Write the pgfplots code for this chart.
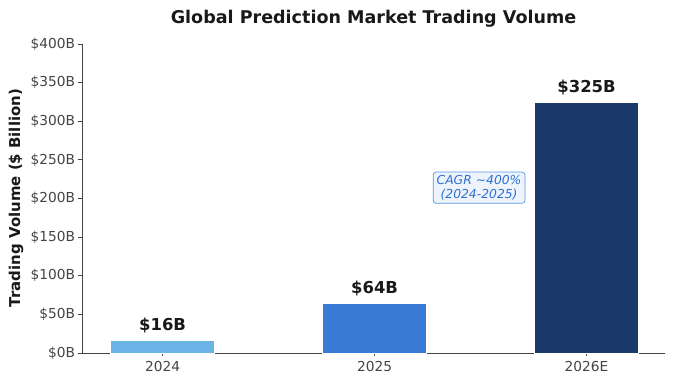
\documentclass[border=0pt]{standalone}
\usepackage{pgfplots}
\pgfplotsset{compat=1.18}
\usepackage{fontspec}
\setmainfont{DejaVu Sans}
\definecolor{c24}{HTML}{6BB4E8}
\definecolor{c25}{HTML}{3A7BD5}
\definecolor{c26}{HTML}{1B3A6B}
\definecolor{tickgray}{HTML}{444444}
\definecolor{cagr}{HTML}{2F6FD6}
\definecolor{cagrfill}{HTML}{EEF4FC}
\definecolor{cagredge}{HTML}{5A94E2}
\begin{document}
\begin{tikzpicture}
\path[use as bounding box] (-82bp,-34bp) rectangle (593bp,353bp);
\begin{axis}[
  at={(0,0)}, anchor=south west,
  scale only axis, width=583bp, height=309bp,
  xmin=-0.38, xmax=2.37, ymin=0, ymax=400,
  axis lines*=left,
  axis line style={color=tickgray, line width=0.8pt},
  xtick={0,1,2}, xticklabels={2024,2025,2026E},
  ytick={0,50,100,150,200,250,300,350,400},
  yticklabels={\$0B,\$50B,\$100B,\$150B,\$200B,\$250B,\$300B,\$350B,\$400B},
  tick align=outside, major tick length=3.5bp,
  tick style={color=tickgray, line width=0.8pt},
  ticklabel style={font=\fontsize{13.8}{15}\selectfont, text=tickgray},
  xticklabel style={yshift=-1bp},
  /pgf/number format/assume math mode=true,
  clip=false,
]
\addplot[ybar, bar width=0.49, bar shift=0pt, fill=c24, draw=white, line width=0.5pt] coordinates {(0,16)};
\addplot[ybar, bar width=0.49, bar shift=0pt, fill=c25, draw=white, line width=0.5pt] coordinates {(1,64)};
\addplot[ybar, bar width=0.49, bar shift=0pt, fill=c26, draw=white, line width=0.5pt] coordinates {(2,325)};
\node[above=4bp, font=\bfseries\fontsize{16.5}{18}\selectfont, text=black!90] at (axis cs:0,16) {\$16B};
\node[above=4bp, font=\bfseries\fontsize{16.5}{18}\selectfont, text=black!90] at (axis cs:1,64) {\$64B};
\node[above=4bp, font=\bfseries\fontsize{16.5}{18}\selectfont, text=black!90] at (axis cs:2,325) {\$325B};
\node[draw=cagredge, fill=cagrfill, rounded corners=3bp, line width=0.7pt, align=center,
  text=cagr, font=\itshape\fontsize{12.4}{13.5}\selectfont, inner sep=3.5bp]
  at (axis cs:1.493,214) {CAGR \textasciitilde400\%\\(2024-2025)};
\end{axis}
\node[font=\bfseries\fontsize{17.6}{19}\selectfont, text=black!90] at (291.5bp,334bp) {Global Prediction Market Trading Volume};
\node[rotate=90, font=\bfseries\fontsize{15}{17}\selectfont, text=black!90] at (-66bp,155bp) {Trading Volume (\$ Billion)};
\end{tikzpicture}
\end{document}
